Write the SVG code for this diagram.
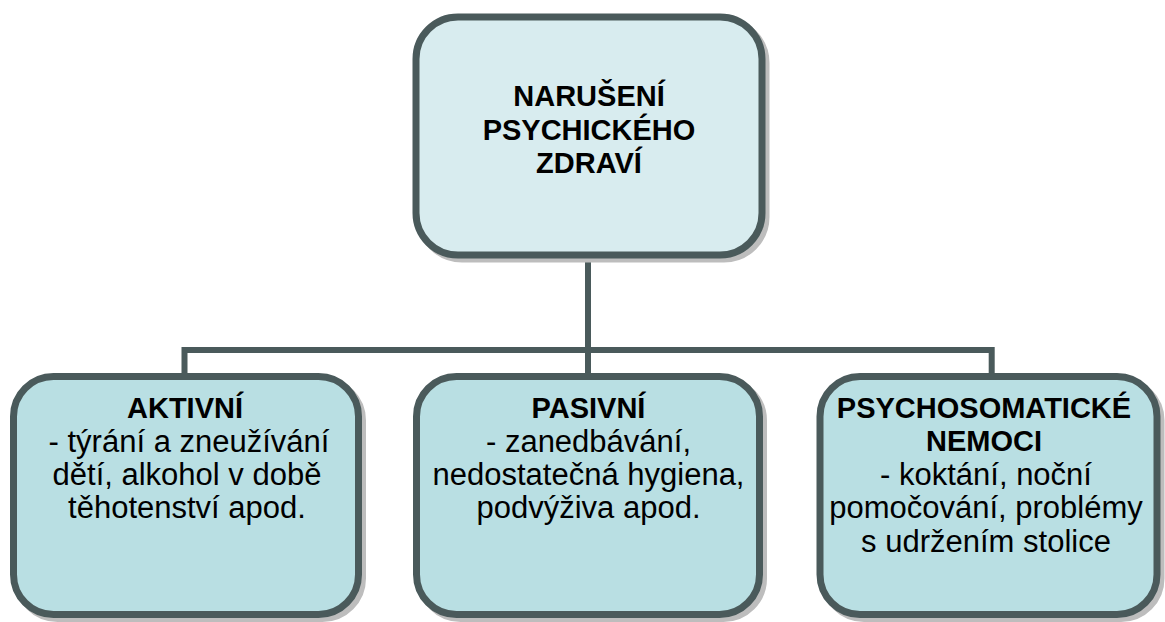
<svg xmlns="http://www.w3.org/2000/svg" width="1165" height="622" viewBox="0 0 1165 622">
<style>
.shadow{fill:#c4c4c4;stroke:#bdbdbd;stroke-width:7}
.box{stroke:#4a5a5b;stroke-width:7}
.top{fill:#d8ecef}
.bot{fill:#b9dfe3}
.conn{fill:none;stroke:#4a5a5b;stroke-width:6}
text{font-family:"Liberation Sans",Arial,sans-serif;font-size:31px;fill:#000;text-anchor:middle}
.b{font-weight:bold;font-size:29px}
</style>
<rect width="1165" height="622" fill="#fff"/>
<g id="connectors">
<path class="conn" d="M588 256 V350 M184.5 376 V350 H991.7 V376 M588 350 V376"/>
</g>
<g id="node-top">
<rect class="shadow" x="420" y="21" width="346" height="238" rx="42"/>
<rect class="box top" x="416" y="17" width="346" height="238" rx="42"/>
<text class="b" x="589" y="106">NARUŠENÍ</text>
<text class="b" x="589" y="139.5">PSYCHICKÉHO</text>
<text class="b" x="589" y="173">ZDRAVÍ</text>
</g>
<g id="node-aktivni">
<rect class="shadow" x="17.5" y="380.5" width="345" height="238" rx="40"/>
<rect class="box bot" x="13.5" y="376.5" width="345" height="238" rx="40"/>
<text class="b" x="185" y="417.5">AKTIVNÍ</text>
<text x="189" y="451.5">- týrání a zneužívání</text>
<text x="187" y="485">dětí, alkohol v době</text>
<text x="187" y="518">těhotenství apod.</text>
</g>
<g id="node-pasivni">
<rect class="shadow" x="420.5" y="380.5" width="343" height="238" rx="40"/>
<rect class="box bot" x="416.5" y="376.5" width="343" height="238" rx="40"/>
<text class="b" x="588.5" y="417.5">PASIVNÍ</text>
<text x="588.5" y="451.5">- zanedbávání,</text>
<text x="588.5" y="485">nedostatečná hygiena,</text>
<text x="588.5" y="518">podvýživa apod.</text>
</g>
<g id="node-psychosomaticke">
<rect class="shadow" x="824" y="380.5" width="337" height="238" rx="40"/>
<rect class="box bot" x="820" y="376.5" width="337" height="238" rx="40"/>
<text class="b" x="984" y="417.5">PSYCHOSOMATICKÉ</text>
<text class="b" x="984" y="451">NEMOCI</text>
<text x="986" y="485">- koktání, noční</text>
<text x="986" y="518">pomočování, problémy</text>
<text x="986" y="551.5">s udržením stolice</text>
</g>
</svg>
